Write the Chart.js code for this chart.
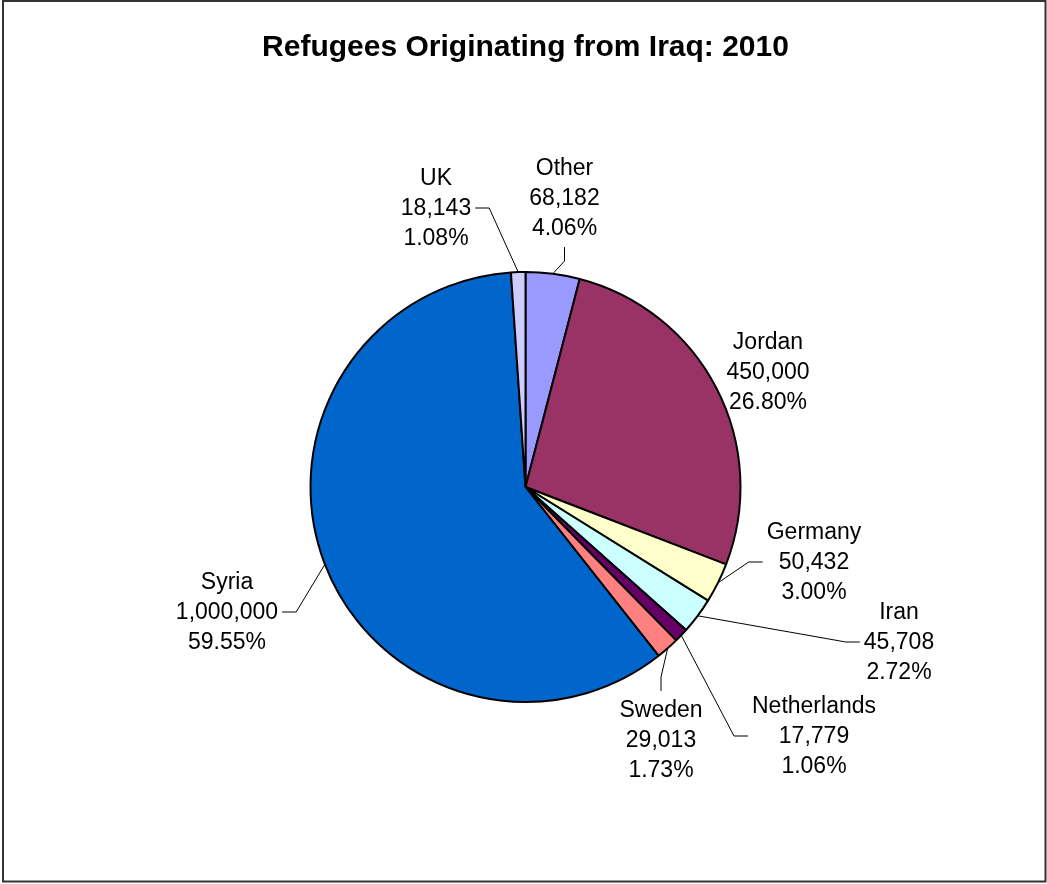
<!DOCTYPE html>
<html>
<head>
<meta charset="utf-8">
<script src="https://cdn.jsdelivr.net/npm/chart.js@4"></script>
<style>
  html, body { margin: 0; padding: 0; background: #fff; }
  #wrap { width: 1047px; height: 884px; }
</style>
</head>
<body>
<div id="wrap"><canvas id="myChart" width="1047" height="884"></canvas></div>
<script>
// slices in clockwise order from 12 o'clock
const countries = ['Other', 'Jordan', 'Germany', 'Iran', 'Netherlands', 'Sweden', 'Syria', 'UK'];
const refugees = [68182, 450000, 50432, 45708, 17779, 29013, 1000000, 18143];
const sliceColors = ['#9999FF', '#993366', '#FFFFCC', '#CCFFFF', '#660066', '#FF8080', '#0066CC', '#CCCCFF'];

// label block centre relative to the pie centre, and where its leader line leaves the block
const labelOffsets = [[39, -289], [242.5, -115], [288.5, 75], [373.5, 155], [288.5, 249], [135.5, 253], [-298.5, 125], [-89.5, -279]];
const leaderSides = ['bottom', null, 'left', 'left', 'left', 'top', 'right', 'right'];

const FONT = '"Liberation Sans", Arial, Helvetica, sans-serif';
const lineGap = 30;
const elbow = 14;
const gap = 4;

const frame = {
  id: 'frame',
  beforeDraw(chart) {
    const ctx = chart.ctx;
    ctx.save();
    ctx.fillStyle = '#fff';
    ctx.fillRect(0, 0, chart.width, chart.height);
    ctx.strokeStyle = '#333';
    ctx.lineWidth = 2;
    ctx.strokeRect(3, 1, 1042.5, 880.5);
    ctx.restore();
  }
};

const pieLabels = {
  id: 'pieLabels',
  afterDatasetsDraw(chart) {
    const ctx = chart.ctx;
    const meta = chart.getDatasetMeta(0);
    const total = refugees.reduce((a, b) => a + b, 0);
    ctx.save();
    ctx.font = '23px ' + FONT;
    ctx.fillStyle = '#000';
    ctx.strokeStyle = '#000';
    ctx.lineWidth = 1;
    ctx.textAlign = 'center';
    ctx.textBaseline = 'middle';
    meta.data.forEach(function(arc, i) {
      const p = arc.getProps(['x', 'y', 'startAngle', 'endAngle', 'outerRadius'], true);
      const mid = (p.startAngle + p.endAngle) / 2;
      const ax = p.x + Math.cos(mid) * p.outerRadius;
      const ay = p.y + Math.sin(mid) * p.outerRadius;
      const cx = p.x + labelOffsets[i][0];
      const cy = p.y + labelOffsets[i][1];
      const lines = [
        countries[i],
        refugees[i].toLocaleString('en-US'),
        (refugees[i] / total * 100).toFixed(2) + '%'
      ];
      const w = Math.max(...lines.map(t => ctx.measureText(t).width));
      const h = lines.length * lineGap;
      lines.forEach(function(t, k) {
        ctx.fillText(t, cx, cy + (k - 1) * lineGap + 1);
      });
      const side = leaderSides[i];
      if (!side) return;
      let ex, ey, bx, by;
      if (side === 'left') { ex = cx - w / 2 - gap; ey = cy; bx = ex - elbow; by = ey; }
      else if (side === 'right') { ex = cx + w / 2 + gap; ey = cy; bx = ex + elbow; by = ey; }
      else if (side === 'bottom') { ex = cx; ey = cy + h / 2 + gap; bx = ex; by = ey + elbow; }
      else { ex = cx; ey = cy - h / 2 - gap; bx = ex; by = ey - elbow; }
      ctx.beginPath();
      ctx.moveTo(ex, ey);
      ctx.lineTo(bx, by);
      ctx.lineTo(ax, ay);
      ctx.stroke();
    });
    ctx.restore();
  }
};

Chart.defaults.color = '#000';
Chart.defaults.font.family = FONT;

const ctx = document.getElementById('myChart');
new Chart(ctx, {
  type: 'pie',
  data: {
    labels: countries,
    datasets: [{
      data: refugees,
      backgroundColor: sliceColors,
      borderColor: '#000',
      borderWidth: 2
    }]
  },
  options: {
    responsive: false,
    animation: false,
    layout: {
      padding: { top: 0, bottom: 181, left: 4, right: 0 }
    },
    plugins: {
      legend: { display: false },
      tooltip: { enabled: false },
      title: {
        display: true,
        text: 'Refugees Originating from Iraq: 2010',
        color: '#000',
        font: { size: 30, weight: 'bold' },
        padding: { top: 30, bottom: 205 }
      }
    }
  },
  plugins: [frame, pieLabels]
});
</script>
</body>
</html>
